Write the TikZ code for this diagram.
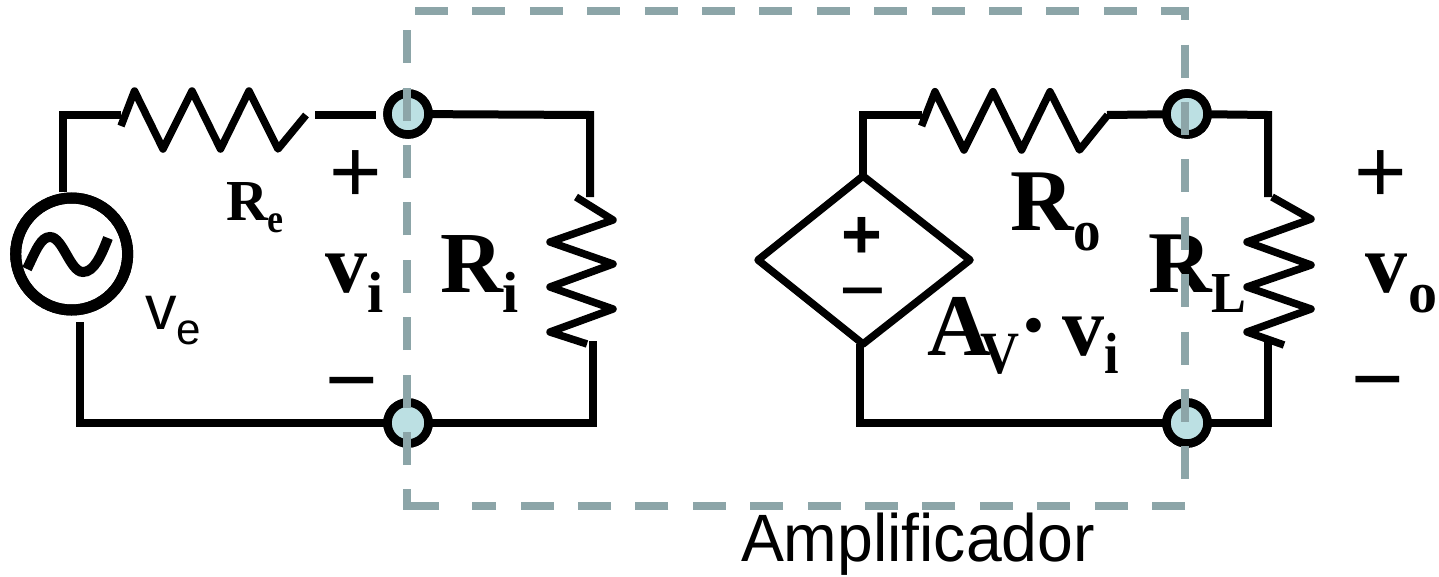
\documentclass[tikz,border=0pt]{standalone}
\usepackage{fontspec}
\setmainfont{Liberation Serif}
\newfontfamily\arialfam{Liberation Sans}
\definecolor{dashgray}{HTML}{8CA5A8}
\definecolor{termfill}{HTML}{BCE0E3}
\newcommand{\fsz}[1]{\fontsize{#1pt}{#1pt}\selectfont}
\newcommand{\drop}[2]{\raisebox{-#1pt}{#2}}
\newcommand{\narrow}[2]{\scalebox{#1}[1]{#2}}
\tikzset{
  x=1pt,y=-1pt,
  wire/.style={line width=8pt,draw=black,line join=miter},
  zig/.style={line width=7.5pt,draw=black,line join=round},
  terminal/.style={circle,draw=black,fill=termfill,line width=8.5pt,minimum size=41pt,inner sep=0pt,outer sep=0pt},
  source/.style={circle,draw=black,line width=11pt,minimum size=112pt,inner sep=0pt,outer sep=0pt},
  ctrl/.style={draw=black,line width=7.5pt,line join=round},
  frame/.style={draw=dashgray,line width=8pt},
  framedash/.style={frame,dash pattern=on 33pt off 24.4pt},
  lbl/.style={inner sep=0pt,outer sep=0pt,anchor=base west,text=black},
  sym/.style={inner sep=0pt,outer sep=0pt,anchor=center,text=black,font=\arialfam\fsz{90}},
}
\begin{document}
\begin{tikzpicture}
\useasboundingbox (0,0) rectangle (1439,576);

% named points
\coordinate (tlA) at (63,115);
\coordinate (r1a) at (121,115);
\coordinate (r1b) at (315,115);
\coordinate (r1c) at (376,115);
\coordinate (trA) at (590,115);
\coordinate (r2a) at (590,197);
\coordinate (r2b) at (593,341);
\coordinate (brA) at (593,423);
\coordinate (blA) at (80,423);
\coordinate (srcb) at (80,322);
\coordinate (srct) at (63,192);
\coordinate (tlB) at (863,115);
\coordinate (r3a) at (922,115);
\coordinate (r3b) at (1107,115);
\coordinate (trB) at (1268,115);
\coordinate (r4a) at (1268,197);
\coordinate (r4b) at (1268,342);
\coordinate (brB) at (1268,423);
\coordinate (blB) at (860,423);

% nodes
\node[source] (src) at (71.7,254) {};
\node[terminal] (t1) at (408,114) {};
\node[terminal] (t2) at (408,423) {};
\node[terminal] (t3) at (1187,114) {};
\node[terminal] (t4) at (1187,423) {};

% dependent source
\draw[ctrl] (758,260) -- (863,176) -- (970,260) -- (863,344) -- cycle;
\coordinate (dt) at (863,176);
\coordinate (db) at (860,344);

% wires, left
\draw[wire] (srct) -- (tlA) -- (r1a);
\draw[wire] (r1b) -- (r1c);
\draw[wire] (t1) -- (trA) -- (r2a);
\draw[wire] (r2b) -- (brA) -- (t2);
\draw[wire] (srcb) -- (blA) -- (t2);
% wires, right
\draw[wire] (dt) -- (tlB) -- (r3a);
\draw[wire] (r3b) -- (t3);
\draw[wire] (t3) -- (trB) -- (r4a);
\draw[wire] (r4b) -- (brB) -- (t4);
\draw[wire] (db) -- (blB) -- (t4);

% resistors
\draw[zig] (121,126) -- (134.5,91) -- (163,149) -- (192,91) -- (220.5,149) -- (249,91) -- (278,149) -- (306,115);
\draw[zig] (576,197) -- (613,220) -- (550,242) -- (613,264) -- (550,287) -- (613,309) -- (550,332) -- (587,344);
\draw[zig] (921.6,126) -- (935,91.7) -- (964,150) -- (993,91.7) -- (1021.6,150) -- (1050,91.7) -- (1079.5,150) -- (1107.7,115);
\draw[zig] (1272,197) -- (1311,219) -- (1247,242) -- (1311,265) -- (1247,287) -- (1311,309) -- (1247,332) -- (1284,345);

% sine of the source
\draw[line width=10pt,draw=black] (27,269) .. controls (36,250) and (41,237) .. (50,237) .. controls (63,237) and (70,272) .. (83,272) .. controls (94,272) and (101,256) .. (108,238);

% terminals again over wires
\node[terminal] at (t1) {};
\node[terminal] at (t2) {};
\node[terminal] at (t3) {};
\node[terminal] at (t4) {};
\node[source] at (src) {};

% symbols
\node[sym] (plusi) at (356,177) {+};
\node[sym] (minusi) at (352,394) {−};
\node[sym] (pluso) at (1381,177) {+};
\node[sym] (minuso) at (1378,393) {−};
\node[sym,font=\arialfam\bfseries\fsz{70}] (plusd) at (862,238) {+};
\node[sym,font=\arialfam\fsz{80}] (minusd) at (863,303) {−};

% labels
\node[lbl] (Re) at (226,220) {\bfseries\fsz{58}R\drop{12}{\fsz{40}\narrow{.9}{e}}};
\node[lbl] (ve) at (145,329) {\arialfam\fsz{63}v\drop{15}{\fsz{44}e}};
\node[lbl] (vi) at (325,292) {\bfseries\fsz{84}v\drop{20}{\fsz{58}i}};
\node[lbl] (Ri) at (440,292) {\bfseries\fsz{87}R\drop{20}{\fsz{58}i}};
\node[lbl] (Ro) at (1010,230) {\bfseries\fsz{88}R\drop{20}{\fsz{58}\narrow{.95}{o}}};
\node[lbl] (RL) at (1148,292) {\bfseries\fsz{88}R\drop{20}{\fsz{58}\narrow{.9}{L}}};
\node[lbl] (vo) at (1365,292) {\bfseries\fsz{84}v\kern1pt\drop{20}{\fsz{58}o}};
\node[lbl] (Av) at (927,355) {\bfseries\fsz{88}A\kern-10pt\drop{18}{\fsz{60}\narrow{.9}{V}}\kern5pt\raisebox{12pt}{\fsz{54}•}\kern19pt\fsz{84}v\drop{18}{\fsz{58}\narrow{.9}{i}}};
\node[lbl,xscale=0.96,transform shape] (amp) at (741,561) {\arialfam\fsz{67}Amplificador};

% amplifier frame
\coordinate (fa) at (415,11);
\coordinate (fb) at (1185,11);
\coordinate (fc) at (1185,481);
\coordinate (fd) at (1185,506);
\coordinate (fe) at (472,506);
\coordinate (ff) at (439,506);
\coordinate (fg) at (406.5,506);
\coordinate (fh) at (406.5,489);
\coordinate (fi) at (406.5,465);
\coordinate (fj) at (406.5,27);
\draw[framedash] (fa) -- (fb) -- (fc);
\draw[framedash] (fd) -- (fe);
\draw[frame] (ff) -- (fg) -- (fh);
\draw[framedash] (fi) -- (fj);
\end{tikzpicture}
\end{document}
